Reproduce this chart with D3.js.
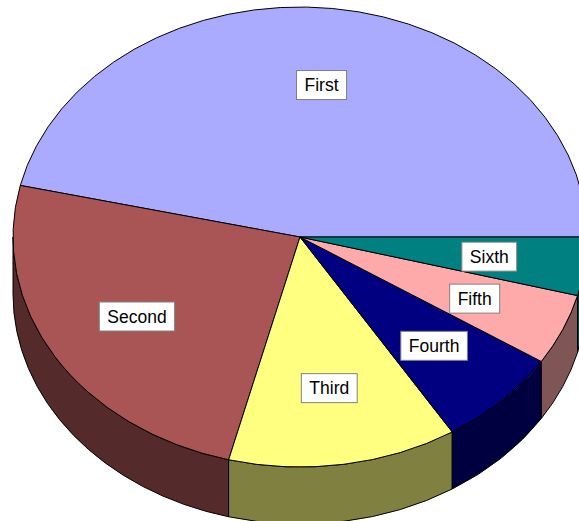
<!DOCTYPE html>
<html lang="en">
<head>
  <meta charset="UTF-8">
  <title>3D Pie</title>
  <script src="https://d3js.org/d3.v7.min.js"></script>
  <style>
    html, body { margin: 0; padding: 0; background: #fff; }
    .lbl text { font-family: "Liberation Sans", Arial, sans-serif; font-size: 17.5px; fill: #000; }
  </style>
</head>
<body>
  <div id="container"></div>
  <script>
    // data
    const categories = ['First', 'Second', 'Third', 'Fourth', 'Fifth', 'Sixth'];
    const values = [46.4, 24.6, 12.9, 7.0, 5.0, 4.1];
    const topColors = ['#aaaaff', '#aa5555', '#ffff80', '#000080', '#ffaaaa', '#008080'];
    const sideColors = ['#555580', '#552a2a', '#808040', '#000040', '#805555', '#004040'];

    const width = 579, height = 521;
    const cx = 300, cy = 237, rx = 287, ry = 230, depth = 57;
    const labelPos = 0.665;

    const svg = d3.select('#container').append('svg')
      .attr('width', width).attr('height', height);

    // counter-clockwise from 3 o'clock (screen angle, y down)
    const pie = d3.pie().sort(null).startAngle(2 * Math.PI).endAngle(0);
    const arcs = pie(values).map((d, i) => {
      const a = Math.min(d.startAngle, d.endAngle);
      const b = Math.max(d.startAngle, d.endAngle);
      return {i, a, b, name: categories[i]};
    });

    const P = (t, dy = 0) => [cx + rx * Math.cos(t), cy + ry * Math.sin(t) + dy];

    function topPath(d) {
      const p0 = P(d.a), p1 = P(d.b);
      const large = (d.b - d.a) > Math.PI ? 1 : 0;
      return `M${cx},${cy}L${p0}A${rx},${ry} 0 ${large} 1 ${p1}Z`;
    }

    function sidePath(d) {
      const a = Math.max(d.a, 0), b = Math.min(d.b, Math.PI);
      if (b <= a) return null;
      const p0 = P(a), p1 = P(b), q1 = P(b, depth), q0 = P(a, depth);
      return `M${p0}A${rx},${ry} 0 0 1 ${p1}L${q1}A${rx},${ry} 0 0 0 ${q0}Z`;
    }

    svg.append('g').selectAll('path')
      .data(arcs.filter(d => sidePath(d)))
      .enter().append('path')
      .attr('d', sidePath)
      .attr('fill', d => sideColors[d.i])
      .attr('stroke', '#000').attr('stroke-width', 1);

    svg.append('g').selectAll('path')
      .data(arcs)
      .enter().append('path')
      .attr('d', topPath)
      .attr('fill', d => topColors[d.i])
      .attr('stroke', '#000').attr('stroke-width', 1)
      .attr('stroke-linejoin', 'round');

    // labels
    const lbl = svg.append('g').selectAll('g')
      .data(arcs)
      .enter().append('g')
      .attr('class', 'lbl')
      .attr('transform', d => {
        const m = (d.a + d.b) / 2;
        return `translate(${cx + rx * labelPos * Math.cos(m)},${cy + ry * labelPos * Math.sin(m)})`;
      });

    lbl.append('rect')
      .attr('fill', '#fff').attr('stroke', '#808080').attr('stroke-width', 1);
    const texts = lbl.append('text')
      .attr('text-anchor', 'middle').attr('dy', '0.36em')
      .text(d => d.name);

    texts.each(function() {
      const w = this.getComputedTextLength() + 16;
      d3.select(this.parentNode).select('rect')
        .attr('x', -w / 2).attr('y', -14.5).attr('width', w).attr('height', 29);
    });
  </script>
</body>
</html>
